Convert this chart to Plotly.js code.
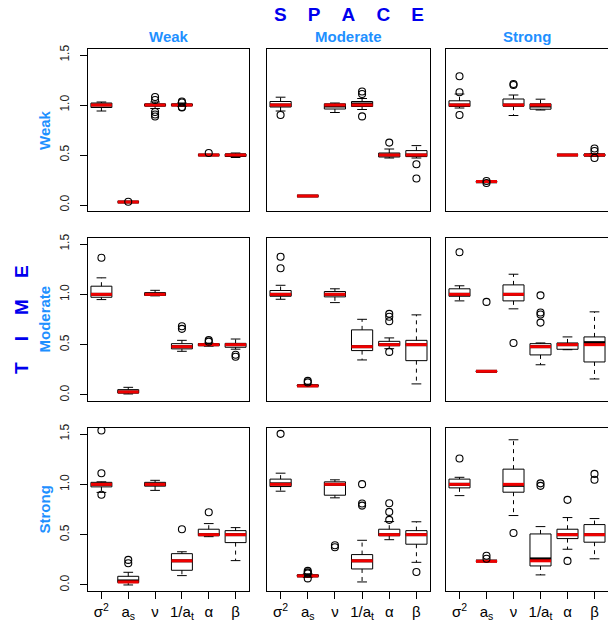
<!DOCTYPE html>
<html><head><meta charset="utf-8">
<script src="https://cdn.plot.ly/plotly-3.0.1.min.js"></script>
<style>html,body{margin:0;padding:0;background:#fff}#plot{width:608px;height:622px}</style>
</head><body><div id="plot"></div>
<script>
// parameter (tick) labels
const paramLabels = ['σ<sup>2</sup>', 'a<sub>s</sub>', 'ν', '1/a<sub>t</sub>', 'α', 'β'];
const spaceLevels = ['Weak', 'Moderate', 'Strong'];   // columns
const timeLevels  = ['Weak', 'Moderate', 'Strong'];   // rows
// panels ordered row by row: (TIME Weak: SPACE Weak, Moderate, Strong), (TIME Moderate: ...), (TIME Strong: ...)
// each panel: values for σ², a_s, ν, 1/a_t, α, β
const q1Vals = [
  [0.975, 0.028, 0.990, 0.995, 0.497, 0.485],
  [0.980, 0.088, 0.960, 0.985, 0.480, 0.484],
  [0.985, 0.228, 0.988, 0.958, 0.498, 0.490],
  [0.971, 0.020, 0.990, 0.458, 0.490, 0.474],
  [0.981, 0.088, 0.975, 0.441, 0.490, 0.341],
  [0.981, 0.230, 0.935, 0.398, 0.454, 0.328],
  [0.975, 0.023, 0.982, 0.146, 0.490, 0.421],
  [0.978, 0.085, 0.892, 0.159, 0.490, 0.405],
  [0.965, 0.235, 0.922, 0.189, 0.461, 0.425]
];
const medianVals = [
  [1.000, 0.030, 1.000, 1.000, 0.500, 0.500],
  [1.000, 0.090, 0.990, 1.010, 0.500, 0.500],
  [1.000, 0.232, 1.000, 0.990, 0.500, 0.500],
  [1.000, 0.030, 1.000, 0.480, 0.500, 0.500],
  [1.000, 0.092, 1.000, 0.480, 0.500, 0.500],
  [1.000, 0.235, 1.000, 0.480, 0.500, 0.520],
  [1.000, 0.040, 1.000, 0.240, 0.500, 0.500],
  [1.005, 0.090, 1.000, 0.240, 0.500, 0.500],
  [1.000, 0.238, 0.990, 0.259, 0.500, 0.500]
];
const q3Vals = [
  [1.020, 0.033, 1.010, 1.010, 0.503, 0.510],
  [1.035, 0.092, 1.012, 1.035, 0.520, 0.544],
  [1.042, 0.236, 1.060, 1.012, 0.502, 0.510],
  [1.081, 0.053, 1.017, 0.510, 0.510, 0.513],
  [1.038, 0.098, 1.028, 0.647, 0.533, 0.543],
  [1.055, 0.240, 1.094, 0.510, 0.517, 0.577],
  [1.020, 0.086, 1.020, 0.311, 0.554, 0.540],
  [1.052, 0.100, 1.025, 0.302, 0.554, 0.540],
  [1.052, 0.240, 1.151, 0.507, 0.554, 0.600]
];
const lowerVals = [
  [0.940, 0.025, 0.965, 0.985, 0.495, 0.475],
  [0.940, 0.086, 0.925, 0.955, 0.470, 0.470],
  [0.970, 0.225, 0.895, 0.950, 0.497, 0.485],
  [0.948, 0.010, 0.985, 0.434, 0.485, 0.455],
  [0.951, 0.085, 0.918, 0.348, 0.460, 0.110],
  [0.935, 0.228, 0.856, 0.300, 0.450, 0.159],
  [0.920, 0.000, 0.940, 0.093, 0.480, 0.242],
  [0.932, 0.075, 0.866, 0.030, 0.450, 0.225],
  [0.888, 0.232, 0.690, 0.100, 0.355, 0.260]
];
const upperVals = [
  [1.030, 0.036, 1.030, 1.020, 0.505, 0.520],
  [1.078, 0.094, 1.020, 1.065, 0.560, 0.594],
  [1.110, 0.240, 1.100, 1.058, 0.503, 0.515],
  [1.164, 0.076, 1.040, 0.543, 0.515, 0.556],
  [1.090, 0.105, 1.055, 0.752, 0.567, 0.796],
  [1.085, 0.242, 1.200, 0.517, 0.577, 0.826],
  [1.025, 0.126, 1.040, 0.330, 0.610, 0.570],
  [1.111, 0.110, 1.045, 0.444, 0.630, 0.628],
  [1.070, 0.242, 1.443, 0.580, 0.670, 0.660]
];
const outlierVals = [
  [[], [0.032], [1.08, 1.05, 0.93, 0.905, 0.885], [1.035, 1.025, 0.98, 0.975], [0.52], []],
  [[0.90], [], [], [1.135, 1.11, 0.886], [0.624], [0.408, 0.265]],
  [[1.287, 1.128, 0.90], [0.24, 0.22], [1.21, 1.20], [], [], [0.565, 0.54, 0.47]],
  [[1.363], [], [], [0.683, 0.657], [0.545, 0.53], [0.40, 0.38]],
  [[1.373, 1.26], [0.14, 0.125], [], [], [0.806, 0.778, 0.733, 0.428], []],
  [[1.419], [0.925], [0.517], [0.99, 0.819, 0.80, 0.719], [], []],
  [[1.535, 1.111, 0.896], [0.249, 0.216], [], [0.554], [0.723], []],
  [[1.502], [0.14, 0.125, 0.115, 0.065], [0.395, 0.375], [1.002, 0.809, 0.789], [0.812, 0.726, 0.647], [0.129]],
  [[1.257], [0.29, 0.26], [0.517], [1.01, 0.985], [0.846, 0.239], [1.104, 1.045]]
];
// true values (red lines)
const trueSigma2 = 1.0, trueNu = 1.0, trueAlpha = 0.5, trueBeta = 0.5;
const trueAs = [0.03, 0.09, 0.235];      // by SPACE column
const trueInvAt = [1.0, 0.48, 0.24];     // by TIME row

const W = 608, H = 622;
const colPx = [[88, 249], [267, 430], [446, 608]];
const rowPx = [[49, 211], [238, 401], [428, 591]];
const FONT = 'Liberation Sans, Arial, Helvetica, sans-serif';
const boxW = 0.78, half = 0.39, stapleHalf = 0.18;

const pos = paramLabels.map((_, i) => i + 1);
const traces = [];
const layout = {
  width: W, height: H, margin: {l: 0, r: 0, t: 0, b: 0},
  paper_bgcolor: '#fff', plot_bgcolor: '#fff', showlegend: false,
  font: {family: FONT, color: '#000'}, annotations: []
};

for (let p = 0; p < 9; p++) {
  const r = Math.floor(p / 3), c = p % 3;
  const sfx = p === 0 ? '' : String(p + 1);
  const xa = 'x' + sfx, ya = 'y' + sfx;
  const q1 = q1Vals[p], md = medianVals[p], q3 = q3Vals[p], lo = lowerVals[p], hi = upperVals[p];
  const truth = [trueSigma2, trueAs[c], trueNu, trueInvAt[r], trueAlpha, trueBeta];

  traces.push({
    type: 'box', x: pos, q1: q1, median: md, q3: q3, lowerfence: q1, upperfence: q3,
    width: boxW, whiskerwidth: 0, fillcolor: '#ffffff', boxpoints: false,
    line: {color: '#000', width: 1}, hoverinfo: 'skip', xaxis: xa, yaxis: ya
  });
  const wx = [], wy = [], sx = [], sy = [], mx = [], my = [], tx = [], ty = [], ox = [], oy = [];
  pos.forEach((x, i) => {
    wx.push(x, x, null, x, x, null); wy.push(q3[i], hi[i], null, q1[i], lo[i], null);
    sx.push(x - stapleHalf, x + stapleHalf, null, x - stapleHalf, x + stapleHalf, null);
    sy.push(hi[i], hi[i], null, lo[i], lo[i], null);
    mx.push(x - half, x + half, null); my.push(md[i], md[i], null);
    tx.push(x - half, x + half, null); ty.push(truth[i], truth[i], null);
    outlierVals[p][i].forEach(v => { ox.push(x); oy.push(v); });
  });
  traces.push({type: 'scatter', mode: 'lines', x: wx, y: wy, line: {color: '#000', width: 1, dash: '4px,4px'}, hoverinfo: 'skip', xaxis: xa, yaxis: ya});
  traces.push({type: 'scatter', mode: 'lines', x: sx, y: sy, line: {color: '#000', width: 1}, hoverinfo: 'skip', xaxis: xa, yaxis: ya});
  traces.push({type: 'scatter', mode: 'lines', x: mx, y: my, line: {color: '#000', width: 3}, hoverinfo: 'skip', xaxis: xa, yaxis: ya});
  traces.push({type: 'scatter', mode: 'lines', x: tx, y: ty, line: {color: '#ee0000', width: 3}, hoverinfo: 'skip', xaxis: xa, yaxis: ya});
  traces.push({type: 'scatter', mode: 'markers', x: ox, y: oy, marker: {symbol: 'circle-open', size: 7, color: '#000', line: {width: 1.1}}, hoverinfo: 'skip', xaxis: xa, yaxis: ya});

  const bottom = r === 2, left = c === 0;
  layout['xaxis' + sfx] = {
    domain: [colPx[c][0] / W, colPx[c][1] / W], anchor: ya, range: [0.5, 6.5],
    showline: true, mirror: true, linecolor: '#000', linewidth: 1,
    showgrid: false, zeroline: false, fixedrange: true,
    tickmode: 'array', tickvals: pos, ticktext: paramLabels,
    ticks: bottom ? 'outside' : '', ticklen: 7, tickcolor: '#000', tickwidth: 1,
    showticklabels: bottom, tickfont: {size: 15, family: FONT, color: '#000'}
  };
  layout['yaxis' + sfx] = {
    domain: [1 - rowPx[r][1] / H, 1 - rowPx[r][0] / H], anchor: xa, range: [-0.06, 1.56],
    showline: true, mirror: true, linecolor: '#000', linewidth: 1,
    showgrid: false, zeroline: false, fixedrange: true,
    tickmode: 'array', tickvals: [0, 0.5, 1, 1.5], ticktext: ['0.0', '0.5', '1.0', '1.5'],
    ticks: left ? 'outside' : '', ticklen: 7, tickcolor: '#000', tickwidth: 1,
    showticklabels: left, tickangle: -90, ticklabelstandoff: 6,
    tickfont: {size: 12, family: FONT, color: '#222'}
  };
}

const nb = '\u00a0\u00a0\u00a0\u00a0';
layout.annotations.push({xref: 'paper', yref: 'paper', x: 349 / W, y: 1 - 15 / H, xanchor: 'center', yanchor: 'middle', showarrow: false,
  text: '<b>' + ['S', 'P', 'A', 'C', 'E'].join(nb) + '</b>', font: {size: 19, color: '#0000ee', family: FONT}});
layout.annotations.push({xref: 'paper', yref: 'paper', x: 21 / W, y: 1 - 320 / H, xanchor: 'center', yanchor: 'middle', showarrow: false, textangle: -90,
  text: '<b>' + ['T', 'I', 'M', 'E'].join(nb) + '</b>', font: {size: 19, color: '#0000ee', family: FONT}});
spaceLevels.forEach((s, c) => layout.annotations.push({xref: 'paper', yref: 'paper',
  x: (colPx[c][0] + colPx[c][1]) / 2 / W, y: 1 - 37 / H, xanchor: 'center', yanchor: 'middle', showarrow: false,
  text: '<b>' + s + '</b>', font: {size: 15, color: '#1e90ff', family: FONT}}));
timeLevels.forEach((t, r) => layout.annotations.push({xref: 'paper', yref: 'paper',
  x: 44 / W, y: 1 - (rowPx[r][0] + rowPx[r][1]) / 2 / H, xanchor: 'center', yanchor: 'middle', showarrow: false, textangle: -90,
  text: '<b>' + t + '</b>', font: {size: 15, color: '#1e90ff', family: FONT}}));

Plotly.newPlot('plot', traces, layout, {staticPlot: true, displayModeBar: false});
</script></body></html>
